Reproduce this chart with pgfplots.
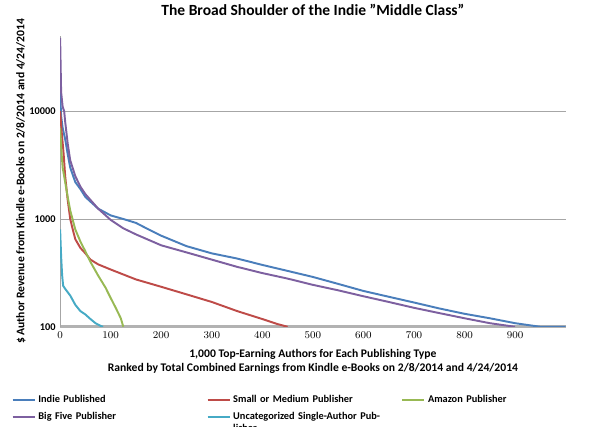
\documentclass[border=0pt]{standalone}
\usepackage{pgfplots}
\pgfplotsset{compat=1.18}
\usetikzlibrary{calc}
\usepackage{fontspec}
\setmainfont{Carlito}
\definecolor{cblue}{HTML}{4A7EBB}
\definecolor{cred}{HTML}{BE4B48}
\definecolor{cgreen}{HTML}{98B954}
\definecolor{cpurple}{HTML}{7D60A0}
\definecolor{ccyan}{HTML}{46AAC5}
\begin{document}
\begin{tikzpicture}
\begin{axis}[name=a, scale only axis, width=391pt, height=225pt,
  ymode=log, xmin=0, xmax=1000, ymin=100, ymax=50000,
  xtick={0,100,...,900}, ytick={100,1000,10000},
  yticklabels={\textbf{100},\textbf{1000},\textbf{10000}},
  xticklabel={\textbf{\pgfmathprintnumber{\tick}}},
  log basis y=10, minor ytick={},
  ymajorgrids, grid style={gray!70, line width=0.6pt},
  axis x line*=bottom, axis y line*=left,
  x axis line style={gray!60, line width=2.2pt, -},
  y axis line style={gray!70, -},
  tick style={draw=none},
  tick label style={font=\footnotesize},
  title={\bfseries The Broad Shoulder of the Indie \symbol{34}Middle Class\symbol{34}},
  title style={font=\large, yshift=6pt},
  xlabel={\textbf{1,000 Top-Earning Authors for Each Publishing Type}\\\textbf{Ranked by Total Combined Earnings from Kindle e-Books on 2/8/2014 and 4/24/2014}},
  xlabel style={font=\small, align=center, yshift=-2pt},
  ylabel={\textbf{\$ Author Revenue from Kindle e-Books on 2/8/2014 and 4/24/2014}},
  ylabel style={font=\small, yshift=-4pt},
  legend columns=3,
  legend style={at={(-0.104,-0.217)}, anchor=north west, draw=none, font=\footnotesize\bfseries,
    nodes={text width=128pt, align=left}, column sep=0pt, row sep=2pt},
  legend image post style={line width=1.6pt},
  every axis plot/.append style={line width=1.5pt},
]
\addplot[cblue] coordinates {(0,15000)(2,9000)(5,7000)(10,5500)(15,4000)(20,3000)(30,2200)(40,1900)(50,1600)(75,1250)(100,1080)(125,1000)(150,920)(175,800)(200,700)(250,560)(300,480)(350,430)(400,375)(450,330)(500,290)(550,250)(600,215)(650,190)(700,168)(750,148)(800,132)(850,120)(900,108)(950,100)(1000,100)};
\addlegendentry{Indie Published}
\addplot[cred] coordinates {(0,10000)(3,6500)(7,4000)(10,2500)(15,1500)(20,1000)(25,800)(30,650)(40,540)(50,480)(60,420)(75,380)(100,340)(150,275)(200,235)(250,200)(300,170)(350,140)(400,118)(430,106)(450,100)};
\addlegendentry{Small or Medium Publisher}
\addplot[cgreen] coordinates {(0,7000)(3,4000)(5,3000)(10,2200)(15,1600)(20,1200)(30,800)(40,620)(50,500)(60,400)(75,300)(90,230)(100,185)(110,150)(120,120)(125,100)};
\addlegendentry{Amazon Publisher}
\addplot[cpurple] coordinates {(0,48000)(2,15000)(5,11000)(8,10000)(10,8000)(15,5000)(20,3500)(30,2500)(40,2000)(50,1700)(75,1250)(100,980)(125,820)(150,720)(200,570)(250,490)(300,420)(350,360)(400,315)(450,280)(500,245)(550,218)(600,192)(650,170)(700,150)(750,134)(800,120)(850,108)(900,100)};
\addlegendentry{Big Five Publisher}
\addplot[ccyan] coordinates {(0,800)(2,450)(4,300)(6,240)(10,225)(20,195)(30,160)(40,140)(50,130)(60,118)(70,108)(80,102)(85,100)};
\addlegendentry{Uncategorized Single-Author Publisher}
\end{axis}
\path[use as bounding box] ($(a.south west)+(-46.5pt,-75pt)$) rectangle ($(a.north east)+(12.75pt,27.75pt)$);
\end{tikzpicture}
\end{document}
